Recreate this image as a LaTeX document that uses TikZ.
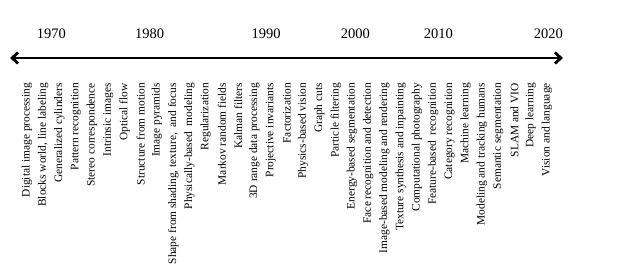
\documentclass[tikz,border=0pt]{standalone}
\usepackage{fontspec}
\setmainfont{Liberation Serif}
\usetikzlibrary{%
	arrows.meta,%
	positioning,%
}
\tikzset{
	timeline/.style={%
			line width=2.8pt,%
			{Straight Barb[length=6pt,width=11pt]}-{Straight Barb[length=6pt,width=11pt]}},%
	yearnode/.style={%
			inner sep=0,%
			font={\fontsize{14.5}{16}\selectfont}},%
	topicnode/.style={%
			rotate=90,%
			anchor=east,%
			inner sep=0,%
			font={\fontsize{11.4}{13}\selectfont}},%
}

\begin{document}
\begin{tikzpicture}[x=1pt, y=-1pt]%
	\useasboundingbox (0,0) rectangle (627,270);

	\node[yearnode] (y1970) at (51.3,33.7) {1970};
	\node[yearnode] (y1980) at (149.5,33.7) {1980};
	\node[yearnode] (y1990) at (266,33.7) {1990};
	\node[yearnode] (y2000) at (355.3,33.7) {2000};
	\node[yearnode] (y2010) at (438.3,33.7) {2010};
	\node[yearnode] (y2020) at (548.3,33.7) {2020};

	\coordinate (past) at (10,58);
	\coordinate (future) at (563,58);
	\draw[timeline] (past) -- (future);

	\node[topicnode] (digital) at (27,83) {Digital image processing};
	\node[topicnode] (blocks) at (43.25,83) {Blocks world, line labeling};
	\node[topicnode] (cylinders) at (59.5,83) {Generalized cylinders};
	\node[topicnode] (pattern) at (75.75,83) {Pattern recognition};
	\node[topicnode] (stereo) at (92,83) {Stereo correspondence};
	\node[topicnode] (intrinsic) at (108.25,83) {Intrinsic images};
	\node[topicnode] (flow) at (124.5,83) {Optical flow};
	\node[topicnode] (sfm) at (140.75,83) {Structure from motion};
	\node[topicnode] (pyramids) at (157,83) {Image pyramids};
	\node[topicnode] (shapefrom) at (173.25,83) {Shape from shading, texture,\ \ and focus};
	\node[topicnode] (physmodel) at (189.5,83) {Physically-based\ \ modeling};
	\node[topicnode] (regular) at (205.75,83) {Regularization};
	\node[topicnode] (mrf) at (222,83) {Markov random fields};
	\node[topicnode] (kalman) at (238.25,83) {Kalman filters};
	\node[topicnode] (range) at (254.5,83) {3D range data processing};
	\node[topicnode] (projinv) at (270.75,83) {Projective invariants};
	\node[topicnode] (factor) at (287,83) {Factorization};
	\node[topicnode] (physvision) at (303.25,83) {Physics-based vision};
	\node[topicnode] (graphcuts) at (319.5,83) {Graph cuts};
	\node[topicnode] (particle) at (335.75,83) {Particle filtering};
	\node[topicnode] (energyseg) at (352,83) {Energy-based segmentation};
	\node[topicnode] (face) at (368.25,83) {Face recognition and detection};
	\node[topicnode] (ibmr) at (384.5,83) {Image-based modeling and rendering};
	\node[topicnode] (texture) at (400.75,83) {Texture synthesis and inpainting};
	\node[topicnode] (comphoto) at (417,83) {Computational photography};
	\node[topicnode] (featrec) at (433.25,83) {Feature-based\ \ recognition};
	\node[topicnode] (catrec) at (449.5,83) {Category recognition};
	\node[topicnode] (ml) at (465.75,83) {Machine learning};
	\node[topicnode] (humans) at (482,83) {Modeling and tracking humans};
	\node[topicnode] (semseg) at (498.25,83) {Semantic segmentation};
	\node[topicnode] (slam) at (514.5,83) {SLAM and VIO};
	\node[topicnode] (deep) at (530.75,83) {Deep learning};
	\node[topicnode] (vislang) at (547,83) {Vision and language};
\end{tikzpicture}
\end{document}
